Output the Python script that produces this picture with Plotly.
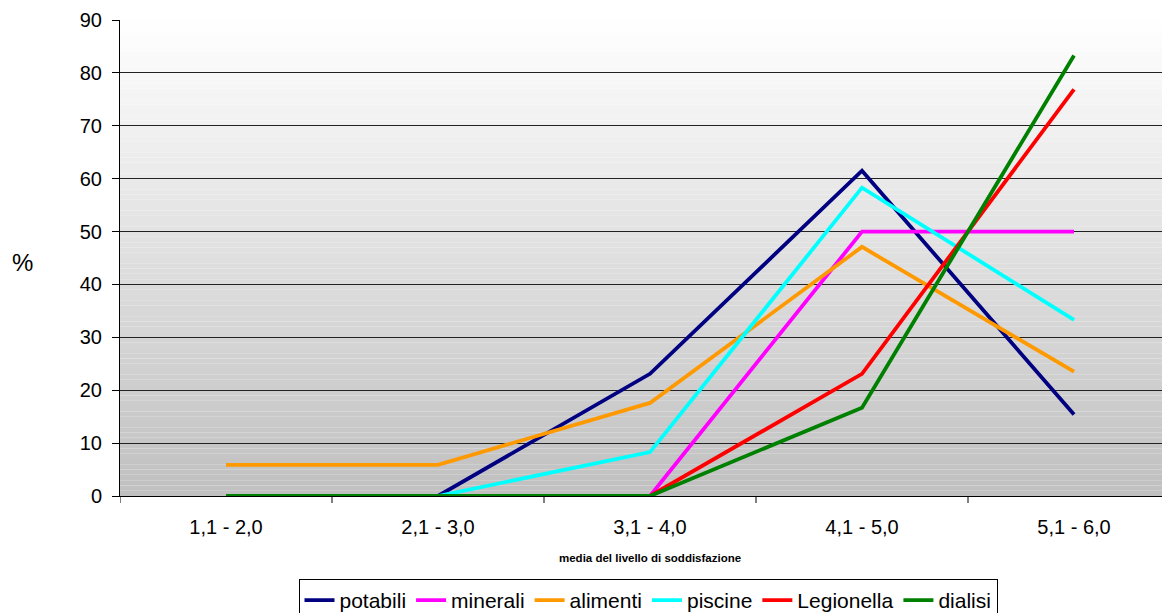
import plotly.graph_objects as go

categories = ["1,1 - 2,0", "2,1 - 3,0", "3,1 - 4,0", "4,1 - 5,0", "5,1 - 6,0"]
potabili = [0, 0, 23.1, 61.5, 15.4]
minerali = [0, 0, 0, 50, 50]
alimenti = [5.9, 5.9, 17.6, 47.1, 23.5]
piscine = [0, 0, 8.3, 58.3, 33.3]
legionella = [0, 0, 0, 23.1, 76.9]
dialisi = [0, 0, 0, 16.7, 83.3]
y_ticks = [0, 10, 20, 30, 40, 50, 60, 70, 80, 90]

series = [
    ("potabili", potabili, "#000080"),
    ("minerali", minerali, "#ff00ff"),
    ("alimenti", alimenti, "#ff9900"),
    ("piscine", piscine, "#00ffff"),
    ("Legionella", legionella, "#ff0000"),
    ("dialisi", dialisi, "#008000"),
]

FONT = "Liberation Sans, Arial, sans-serif"
fig = go.Figure()
for name, vals, col in series:
    fig.add_trace(go.Scatter(x=list(range(len(categories))), y=vals, name=name, mode="lines",
                             line=dict(color=col, width=3.8)))

# gradient background
shapes = []
n = 90
for i in range(n):
    t = i / n
    c = int(round(192 + (255 - 192) * t))
    shapes.append(dict(type="rect", xref="x domain", yref="y domain", x0=0, x1=1,
                       y0=i / n, y1=(i + 1) / n, fillcolor=f"rgb({c},{c},{c})",
                       line=dict(width=0), layer="below"))

# page has 8px body margin: compensate
PLOT_L, PLOT_T, PLOT_B = 120, 20, 496
fig.update_layout(
    width=1162, height=605,
    margin=dict(l=PLOT_L - 8, r=0, t=PLOT_T - 8, b=605 - (PLOT_B - 8), autoexpand=False),
    paper_bgcolor="white", plot_bgcolor="white",
    font=dict(family=FONT, size=20, color="black"),
    shapes=shapes,
    showlegend=True,
    legend=dict(orientation="h", x=(648 - 120) / 1050, xanchor="center",
                y=(496 - 579) / 476, yanchor="top",
                bordercolor="black", borderwidth=1, bgcolor="white",
                font=dict(size=21), itemwidth=30, tracegroupgap=0),
    xaxis=dict(range=[-0.5, 4.4528], tickmode="array", tickvals=list(range(len(categories))),
               ticktext=categories, showgrid=False, zeroline=False, showline=True,
               linecolor="black", linewidth=1, ticks="", tickfont=dict(size=20),
               ticklabelstandoff=13),
    yaxis=dict(range=[0, 90], tickvals=y_ticks, showgrid=True, gridcolor="#222222", gridwidth=1,
               zeroline=False, showline=True, linecolor="black", linewidth=1,
               ticks="outside", ticklen=7, tickcolor="black", tickfont=dict(size=20),
               ticklabelstandoff=6),
    annotations=[
        dict(text="%", xref="paper", yref="paper", x=(22 - 120) / 1050, y=(496 - 262) / 476,
             showarrow=False, font=dict(size=24), xanchor="center", yanchor="middle"),
        dict(text="<b>media del livello di soddisfazione</b>", xref="paper", yref="paper",
             x=(650 - 120) / 1050, y=(496 - 558) / 476, showarrow=False,
             font=dict(size=11.5), xanchor="center", yanchor="middle"),
    ],
)
# category boundary ticks on x axis
for b in [-0.5, 0.5, 1.5, 2.5, 3.5]:
    fig.add_shape(type="line", xref="x", yref="paper", x0=b, x1=b, y0=0, y1=-7 / 476,
                  line=dict(color="black", width=1))

fig.write_html("out.html")
